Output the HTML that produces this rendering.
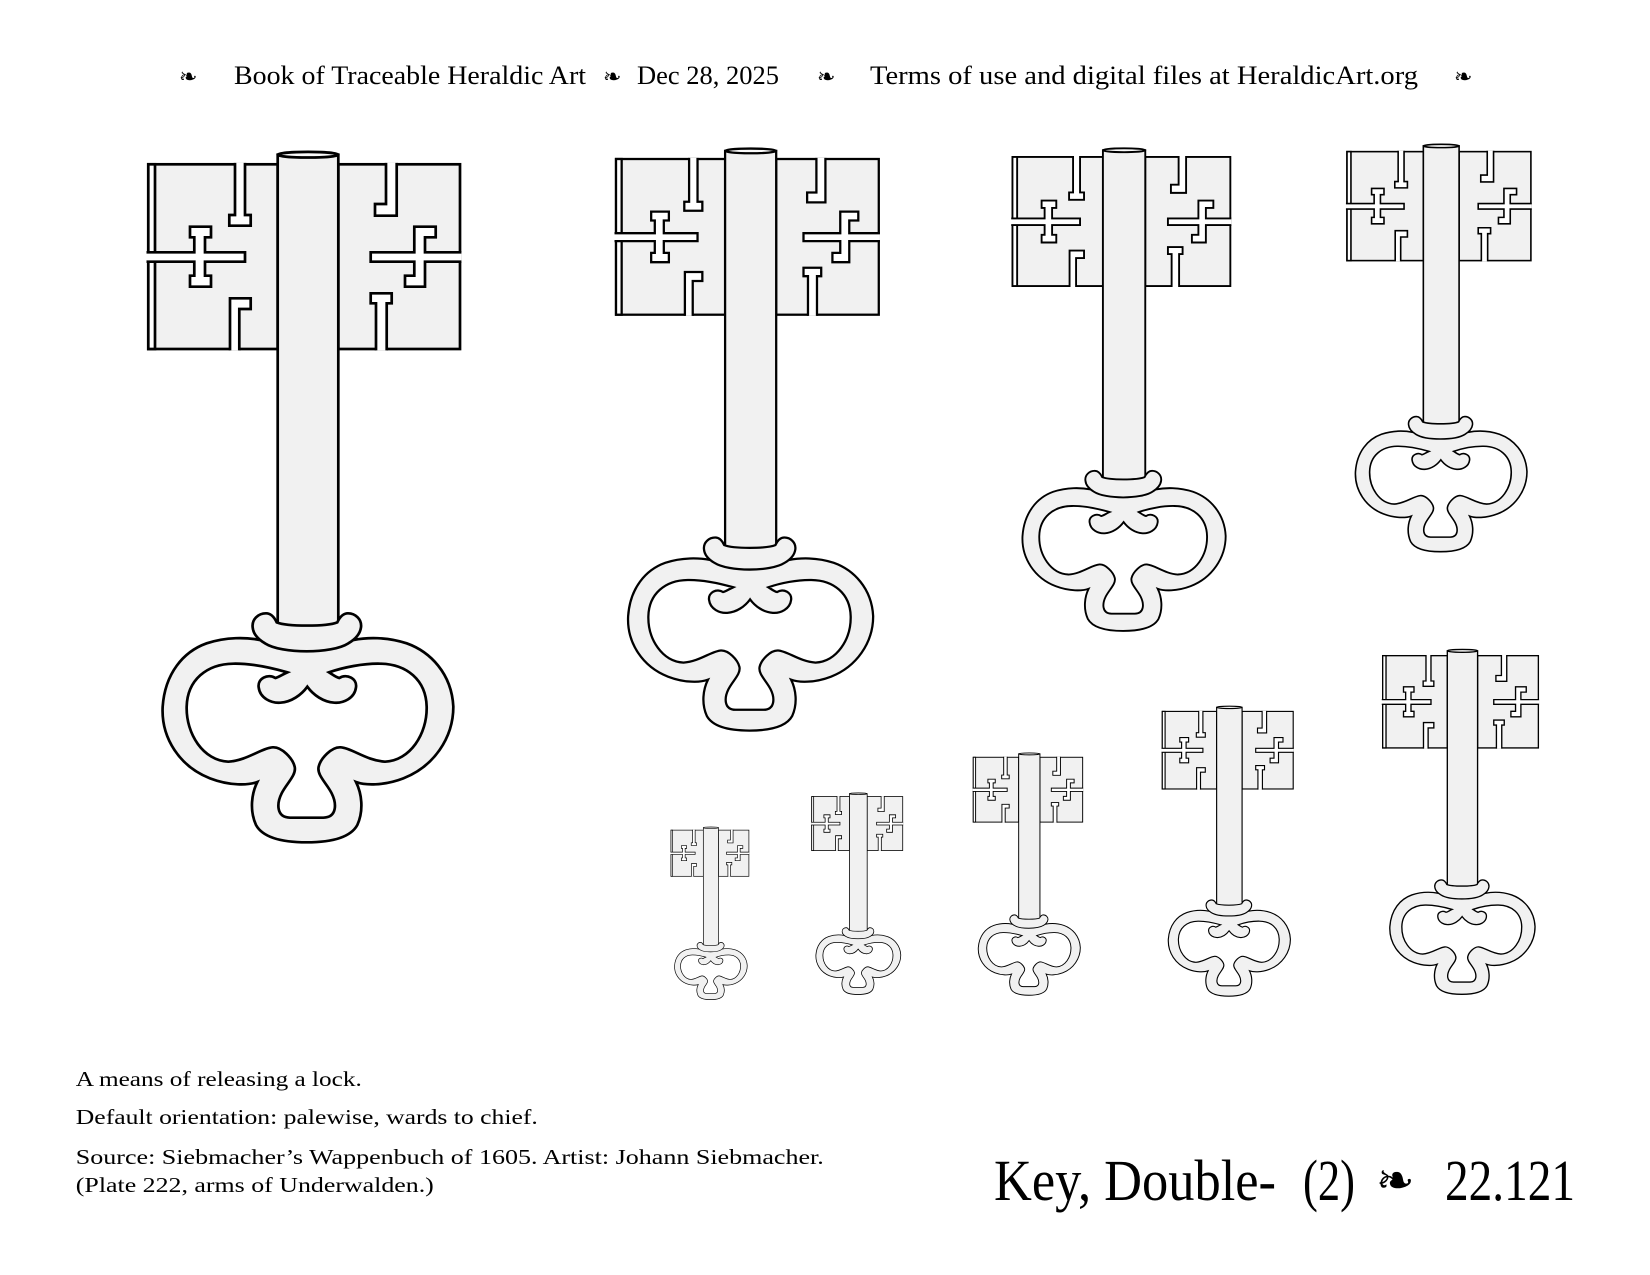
<!DOCTYPE html>
<html>
<head>
<meta charset="utf-8">
<style>
  html, body { margin:0; padding:0; background:#fff; }
  svg { display:block; }
  .hd { font-family: "Liberation Serif", "DejaVu Serif", serif; font-size:26px; fill:#000; }
  .orn { font-family: "DejaVu Sans", "Liberation Serif", sans-serif; font-size:22px; fill:#000; }
  .ft { font-family: "Liberation Serif", serif; font-size:21.5px; fill:#000; }
  .tt { font-family: "Liberation Serif", serif; font-size:58px; fill:#000; }
  .tto { font-family: "DejaVu Sans", "Liberation Serif", sans-serif; font-size:46px; fill:#000; }
</style>
</head>
<body>
<svg width="1650" height="1275" viewBox="0 0 1650 1275" xmlns="http://www.w3.org/2000/svg">
<defs>
  <g id="key" stroke="#000" stroke-width="2.7" fill="#f1f1f1" stroke-linejoin="miter">
    <!-- left wing -->
    <rect x="148.3" y="164.3" width="129.4" height="184.7"/>
    <rect x="148.3" y="164.3" width="6.7" height="184.7" fill="#fff"/>
    <path fill="#fff" d="M235,162.9 V215 H229.3 V225.7 H250.7 V215 H245 V162.9"/>
    <path fill="#fff" d="M146.5,252.3 H194.3 V237.3 H190 V226.7 H211 V237.3 H205 V252.3 H245 V261.7 H205 V275.7 H211 V286.7 H190 V275.7 H194.3 V261.7 H146.5"/>
    <path fill="#fff" d="M230,350.4 V298.3 H250.7 V309 H239.3 V350.4"/>
    <!-- right wing -->
    <rect x="338.3" y="164.3" width="121.7" height="184.7"/>
    <path fill="#fff" d="M386,162.9 V204 H375 V215.7 H396.7 V162.9"/>
    <path fill="#fff" d="M461.4,252.3 H425 V237.3 H435.7 V226.7 H414.3 V252.3 H370.7 V261.7 H414.3 V275.7 H405 V286.7 H425 V261.7 H461.4"/>
    <path fill="#fff" d="M376,350.4 V303.3 H370.7 V293.3 H391.7 V303.3 H386.7 V350.4"/>
    <!-- shaft -->
    <path d="M277.7,154.7 V630 H338.3 V154.7 Z"/>
    <ellipse cx="308" cy="154.7" rx="30.3" ry="2.8" fill="#fafafa"/>
    <!-- bow (coords in 3x space) -->
    <g transform="translate(150,590) scale(0.333333)" stroke-width="8.1">
      <path d="M330,150 C290,142 230,140 170,160 C100,185 45,250 38,350 C33,445 90,530 180,565 C240,588 295,586 322,576 C305,610 298,660 318,705 C340,745 400,757 470,757 C540,757 600,745 622,705 C642,660 635,610 618,576 C645,586 700,588 760,565 C850,530 910,445 910,350 C905,250 840,185 770,160 C710,140 650,142 610,150 C560,130 380,130 330,150 Z"/>
      <path fill="#fff" d="M412,247 C360,232 300,220 250,221 C170,222 112,270 110,350 C108,432 160,512 235,515 C290,512 335,474 368,472 C395,470 428,505 434,530 C440,555 410,580 395,610 C380,640 378,682 420,683 L520,683 C562,682 560,640 545,610 C530,580 500,555 506,530 C512,505 545,470 572,472 C605,474 650,512 705,515 C780,512 832,432 830,350 C828,270 770,222 690,221 C640,220 580,232 537,247 C550,255 558,262 568,264 C590,250 622,265 618,292 C614,325 580,340 553,338 C520,336 490,315 472,290 C454,315 424,336 391,338 C364,340 330,325 326,292 C322,265 354,250 376,264 C386,262 394,255 412,247 Z"/>
      <path d="M380,97 C372,80 362,70 348,70 C325,70 305,88 308,112 C310,135 328,150 345,160 C395,192 545,192 595,160 C612,150 630,135 633,112 C636,88 616,70 594,70 C580,70 570,80 562,97 C530,110 412,110 380,97 Z"/>
    </g>
  </g>
</defs>

<!-- header -->
<text class="orn" x="179" y="84">❧</text>
<text class="hd" x="234" y="84" textLength="352" lengthAdjust="spacingAndGlyphs">Book of Traceable Heraldic Art</text>
<text class="orn" x="603" y="84">❧</text>
<text class="hd" x="637" y="84" textLength="142" lengthAdjust="spacingAndGlyphs">Dec 28, 2025</text>
<text class="orn" x="817" y="84">❧</text>
<text class="hd" x="870" y="84" textLength="548" lengthAdjust="spacingAndGlyphs">Terms of use and digital files at HeraldicArt.org</text>
<text class="orn" x="1454" y="84">❧</text>

<!-- keys -->
<use href="#key"/>
<use href="#key" transform="translate(491.0,20.5) scale(0.843)"/>
<use href="#key" transform="translate(908.8,42.1) scale(0.699)"/>
<use href="#key" transform="translate(1259.5,54.7) scale(0.59)"/>
<use href="#key" transform="translate(1308.6,573.6) scale(0.4995)"/>
<use href="#key" transform="translate(1100.0,642.4) scale(0.42)"/>
<use href="#key" transform="translate(921.2,699.6) scale(0.351)"/>
<use href="#key" transform="translate(768.4,748.6) scale(0.292)"/>
<use href="#key" transform="translate(633.9,789.05) scale(0.25)"/>

<!-- footer text -->
<text class="ft" x="75.8" y="1086" textLength="286" lengthAdjust="spacingAndGlyphs">A means of releasing a lock.</text>
<text class="ft" x="75.8" y="1124" textLength="462" lengthAdjust="spacingAndGlyphs">Default orientation: palewise, wards to chief.</text>
<text class="ft" x="75.8" y="1164" textLength="748" lengthAdjust="spacingAndGlyphs">Source: Siebmacher’s Wappenbuch of 1605. Artist: Johann Siebmacher.</text>
<text class="ft" x="75.8" y="1192" textLength="358" lengthAdjust="spacingAndGlyphs">(Plate 222, arms of Underwalden.)</text>

<!-- title -->
<text class="tt" x="994" y="1200" textLength="282" lengthAdjust="spacingAndGlyphs">Key, Double-</text>
<text class="tt" x="1303" y="1200" textLength="52" lengthAdjust="spacingAndGlyphs">(2)</text>
<text class="tto" x="1376" y="1196">❧</text>
<text class="tt" x="1445" y="1200" textLength="130" lengthAdjust="spacingAndGlyphs">22.121</text>
</svg>
</body>
</html>
